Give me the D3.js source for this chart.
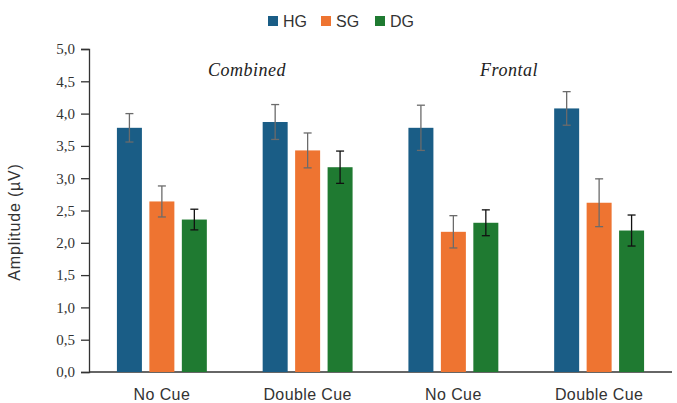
<!DOCTYPE html>
<html>
<head>
<meta charset="utf-8">
<script src="https://cdn.jsdelivr.net/npm/d3@7"></script>
<style>
  body { margin: 0; background: #fff; }
</style>
</head>
<body>
<svg></svg>
<script>
var categories = ["No Cue", "Double Cue", "No Cue", "Double Cue"]
var series = ["HG", "SG", "DG"]
var hgValues = [3.78, 3.87, 3.78, 4.08]
var sgValues = [2.64, 3.43, 2.17, 2.62]
var dgValues = [2.36, 3.17, 2.31, 2.19]
var hgErrors = [0.22, 0.27, 0.35, 0.26]
var sgErrors = [0.24, 0.27, 0.25, 0.37]
var dgErrors = [0.16, 0.25, 0.20, 0.24]
var yTicks = [0, 0.5, 1, 1.5, 2, 2.5, 3, 3.5, 4, 4.5, 5]
var panelLabels = ["Combined", "Frontal"]

var width = 677
var height = 403
var margin = { top: 49, right: 5, bottom: 31, left: 89 }

var colors = { HG: "#1a5d86", SG: "#ee7431", DG: "#1f7a31" }
var errColors = { HG: "#6b6b6b", SG: "#6b6b6b", DG: "#111111" }

var values = { HG: hgValues, SG: sgValues, DG: dgValues }
var errors = { HG: hgErrors, SG: sgErrors, DG: dgErrors }

var svg = d3.select("svg")
  .attr("width", width)
  .attr("height", height)

var x0 = d3.scaleBand()
  .domain(d3.range(categories.length))
  .range([margin.left, width - margin.right])
  .padding(0)

var x1 = d3.scaleBand()
  .domain(series)
  .range([0, x0.bandwidth()])
  .paddingInner(0.23)
  .paddingOuter(0.86)

var y = d3.scaleLinear()
  .domain([0, 5])
  .range([height - margin.bottom, margin.top])

// y axis
var yAxis = svg.append("g")
  .attr("transform", "translate(" + margin.left + ",0)")
  .call(d3.axisLeft(y).tickValues(yTicks).tickSize(8).tickPadding(6)
    .tickFormat(function (d) { return d3.format(".1f")(d).replace(".", ",") }))
yAxis.select(".domain").attr("stroke", "#333").attr("stroke-width", 1.3)
yAxis.selectAll(".tick line").attr("stroke", "#333").attr("stroke-width", 1.3)
yAxis.selectAll("text")
  .attr("fill", "#333")
  .style("font-family", "'Liberation Serif', 'Times New Roman', serif")
  .style("font-size", "15px")

// x axis line
svg.append("line")
  .attr("x1", margin.left)
  .attr("x2", width - margin.right)
  .attr("y1", y(0))
  .attr("y2", y(0))
  .attr("stroke", "#333")
  .attr("stroke-width", 1.3)

// category labels
svg.selectAll(".cat")
  .data(categories)
  .enter().append("text")
  .attr("x", function (d, i) { return x0(i) + x0.bandwidth() / 2 })
  .attr("y", 400)
  .attr("text-anchor", "middle")
  .attr("fill", "#333")
  .style("font-family", "'Liberation Sans', Arial, sans-serif")
  .style("font-size", "16px")
  .style("letter-spacing", "0.4px")
  .text(function (d) { return d })

// bars
var groups = svg.selectAll(".grp")
  .data(categories)
  .enter().append("g")
  .attr("transform", function (d, i) { return "translate(" + x0(i) + ",0)" })

groups.each(function (c, i) {
  var g = d3.select(this)
  series.forEach(function (s) {
    var v = values[s][i]
    var e = errors[s][i]
    var cx = x1(s) + x1.bandwidth() / 2
    g.append("rect")
      .attr("x", x1(s))
      .attr("y", y(v))
      .attr("width", x1.bandwidth())
      .attr("height", y(0) - y(v))
      .attr("fill", colors[s])
    g.append("line")
      .attr("x1", cx).attr("x2", cx)
      .attr("y1", y(v + e)).attr("y2", y(v - e))
      .attr("stroke", errColors[s]).attr("stroke-width", 1.3)
    ;[v + e, v - e].forEach(function (t) {
      g.append("line")
        .attr("x1", cx - 4).attr("x2", cx + 4)
        .attr("y1", y(t)).attr("y2", y(t))
        .attr("stroke", errColors[s]).attr("stroke-width", 1.3)
    })
  })
})

// panel labels
svg.selectAll(".panel")
  .data(panelLabels)
  .enter().append("text")
  .attr("x", function (d, i) { return i == 0 ? 247 : 509 })
  .attr("y", 76)
  .attr("text-anchor", "middle")
  .attr("fill", "#222")
  .style("font-family", "'Liberation Serif', 'Times New Roman', serif")
  .style("font-style", "italic")
  .style("font-size", "18px")
  .style("letter-spacing", "0.5px")
  .text(function (d) { return d })

// y title
svg.append("text")
  .attr("transform", "translate(20,222) rotate(-90)")
  .attr("text-anchor", "middle")
  .attr("fill", "#333")
  .style("font-family", "'Liberation Sans', Arial, sans-serif")
  .style("font-size", "16px")
  .style("letter-spacing", "0.8px")
  .text("Amplitude (µV)")

// legend
var legendX = [268, 321, 375]
var legend = svg.selectAll(".leg")
  .data(series)
  .enter().append("g")
  .attr("transform", function (d, i) { return "translate(" + legendX[i] + ",16)" })
legend.append("rect")
  .attr("width", 10).attr("height", 10)
  .attr("fill", function (d) { return colors[d] })
legend.append("text")
  .attr("x", 15).attr("y", 10.5)
  .attr("fill", "#333")
  .style("font-family", "'Liberation Sans', Arial, sans-serif")
  .style("font-size", "16px")
  .text(function (d) { return d })
</script>
</body>
</html>
